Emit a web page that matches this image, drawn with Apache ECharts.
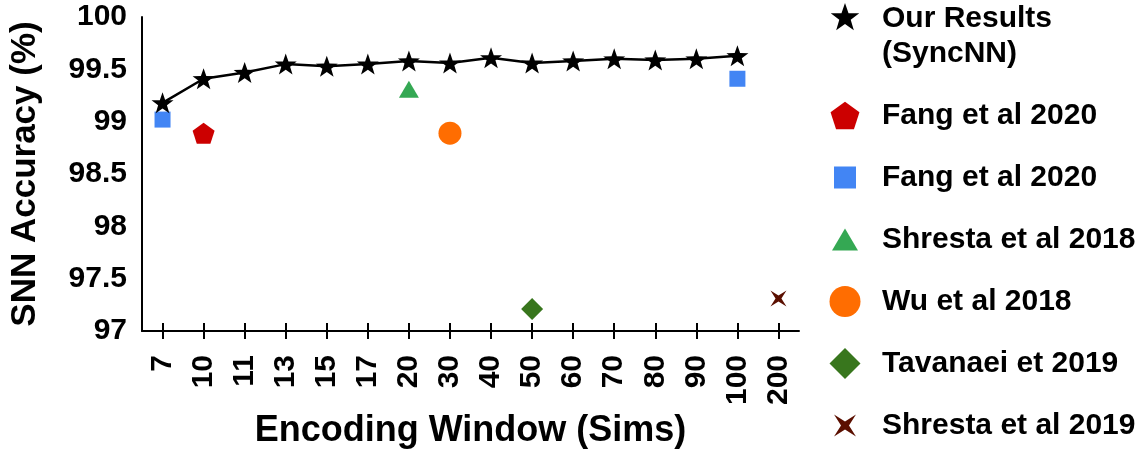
<!DOCTYPE html>
<html>
<head>
<meta charset="utf-8">
<script src="https://cdn.jsdelivr.net/npm/echarts@6/dist/echarts.min.js"></script>
<style>
html,body{margin:0;padding:0;background:#fff;}
#chart{width:1148px;height:451px;}
</style>
</head>
<body>
<div id="chart"></div>
<script>
// ---- data ----
const categories = ['7','10','11','13','15','17','20','30','40','50','60','70','80','90','100','200'];
const yTicks = [97, 97.5, 98, 98.5, 99, 99.5, 100];
const syncnnValues = [99.18, 99.41, 99.47, 99.55, 99.53, 99.55, 99.58, 99.56, 99.61, 99.56, 99.58, 99.60, 99.59, 99.60, 99.63, null];
const fangPentagon = [['10', 98.89]];
const fangSquare = [['7', 99.02], ['100', 99.41]];
const shresta2018 = [['20', 99.31]];
const wu2018 = [['30', 98.89]];
const tavanaei2019 = [['50', 97.21]];
const shresta2019 = [['200', 97.31]];
const seriesLabels = ['{s| }\n{a|Our Results}\n{a|(SyncNN)}', 'Fang et al 2020', 'Fang et al 2020', 'Shresta et al 2018', 'Wu et al 2018', 'Tavanaei et 2019', 'Shresta et al 2019'];

// ---- shapes ----
function f(n){return n.toFixed(2);}
function starD(cx, cy, R, r){
  let d='';
  for(let i=0;i<10;i++){
    const a=-Math.PI/2+i*Math.PI/5, rad=i%2?r:R;
    d+=(i?'L':'M')+f(cx+rad*Math.cos(a))+' '+f(cy+rad*Math.sin(a))+' ';
  }
  return d+'Z';
}
function polyD(cx, cy, R, n, start){
  let d='';
  for(let i=0;i<n;i++){
    const a=start+i*2*Math.PI/n;
    d+=(i?'L':'M')+f(cx+R*Math.cos(a))+' '+f(cy+R*Math.sin(a))+' ';
  }
  return d+'Z';
}
function crossD(cx, cy, R, r){
  let d='';
  for(let i=0;i<8;i++){
    const a=-Math.PI/4+i*Math.PI/4, rad=i%2?r:R;
    d+=(i?'L':'M')+f(cx+rad*Math.cos(a))+' '+f(cy+rad*Math.sin(a))+' ';
  }
  return d+'Z';
}
function circleD(cx, cy, r){
  return 'M'+f(cx-r)+' '+cy+' A'+r+' '+r+' 0 1 0 '+f(cx+r)+' '+cy+' A'+r+' '+r+' 0 1 0 '+f(cx-r)+' '+cy+' Z';
}
const IW=48, IH=32;
function pad(d){ return 'path://'+d+' M0 0 L0 0 M'+IW+' '+IH+' L'+IW+' '+IH; }

const symStar = 'path://'+starD(50,50,50,20);
const symPent = 'path://'+polyD(50,50,50,5,-Math.PI/2);
const symCross = 'path://'+crossD(50,50,50,13);

const legStar = pad(starD(16,17.5,15,6));
const legPent = pad(polyD(16,17.4,15.2,5,-Math.PI/2));
const legSquare = pad('M5 5 L27 5 L27 27 L5 27 Z');
const legTri = pad('M16 5 L29 27 L3 27 Z');
const legCircle = pad(circleD(16,16,15.5));
const legDiamond = pad('M16 0.5 L31.5 16 L16 31.5 L0.5 16 Z');
const legCross = pad(crossD(16,16,15.5,4));

const FONT = 'Liberation Sans';
const names = ['s0','s1','s2','s3','s4','s5','s6'];
const solid = {opacity:1, borderWidth:0};

const chart = echarts.init(document.getElementById('chart'));
chart.setOption({
  animation:false,
  backgroundColor:'#fff',
  grid:{left:142, right:349, top:17, bottom:120, containLabel:false, outerBoundsMode:'none'},
  legend:{
    orient:'vertical', left:829, top:-38, padding:0, itemGap:27,
    itemWidth:IW, itemHeight:IH, selectedMode:false,
    itemStyle:{borderWidth:0, opacity:1},
    textStyle:{fontFamily:FONT, fontSize:30, fontWeight:'bold', color:'#000', lineHeight:35,
      rich:{
        s:{fontFamily:FONT, fontSize:10, lineHeight:39, height:39},
        a:{fontFamily:FONT, fontSize:30, fontWeight:'bold', color:'#000', lineHeight:35}
      }},
    formatter:function(n){ return seriesLabels[names.indexOf(n)]; },
    data:[
      {name:'s0', icon:legStar},
      {name:'s1', icon:legPent},
      {name:'s2', icon:legSquare},
      {name:'s3', icon:legTri},
      {name:'s4', icon:legCircle},
      {name:'s5', icon:legDiamond},
      {name:'s6', icon:legCross}
    ]
  },
  xAxis:[{
    type:'category', data:categories, position:'bottom', boundaryGap:true,
    name:'Encoding Window (Sims)', nameLocation:'middle', nameGap:78,
    nameTextStyle:{fontFamily:FONT, fontSize:36, fontWeight:'bold', color:'#000'},
    axisLine:{show:true, lineStyle:{color:'#000', width:2}},
    axisTick:{show:true, alignWithLabel:true, inside:false, length:8, lineStyle:{color:'#000', width:2}},
    axisLabel:{rotate:90, margin:24, interval:0, fontFamily:FONT, fontSize:30, fontWeight:'bold', color:'#000'},
    splitLine:{show:false}
  },{
    type:'category', data:categories, position:'bottom', boundaryGap:true,
    axisLine:{show:false},
    axisTick:{show:true, alignWithLabel:true, inside:true, length:8, lineStyle:{color:'#000', width:2}},
    axisLabel:{show:false}, splitLine:{show:false}
  }],
  yAxis:{
    type:'value', min:yTicks[0], max:yTicks[yTicks.length-1], interval:0.5,
    name:'SNN Accuracy (%)', nameLocation:'middle', nameGap:99,
    nameTextStyle:{fontFamily:FONT, fontSize:35, fontWeight:'bold', color:'#000'},
    axisLine:{show:true, lineStyle:{color:'#000', width:2}},
    axisTick:{show:false},
    axisLabel:{margin:15, fontFamily:FONT, fontSize:30, fontWeight:'bold', color:'#000'},
    splitLine:{show:false}
  },
  series:[
    {name:'s0', type:'line', data:syncnnValues, symbol:symStar, symbolSize:[22,21], showAllSymbol:true,
      z:5, lineStyle:{color:'#000', width:2.5}, itemStyle:Object.assign({color:'#000'}, solid), emphasis:{disabled:true}},
    {name:'s1', type:'scatter', data:fangPentagon, symbol:symPent, symbolSize:[22,21], itemStyle:Object.assign({color:'#cc0000'}, solid), emphasis:{disabled:true}},
    {name:'s2', type:'scatter', data:fangSquare, symbol:'rect', symbolSize:16, itemStyle:Object.assign({color:'#4285f4'}, solid), emphasis:{disabled:true}},
    {name:'s3', type:'scatter', data:shresta2018, symbol:'triangle', symbolSize:[20,17], itemStyle:Object.assign({color:'#34a853'}, solid), emphasis:{disabled:true}},
    {name:'s4', type:'scatter', data:wu2018, symbol:'circle', symbolSize:23, itemStyle:Object.assign({color:'#ff6d01'}, solid), emphasis:{disabled:true}},
    {name:'s5', type:'scatter', data:tavanaei2019, symbol:'diamond', symbolSize:22, itemStyle:Object.assign({color:'#38761d'}, solid), emphasis:{disabled:true}},
    {name:'s6', type:'scatter', data:shresta2019, symbol:symCross, symbolSize:16, itemStyle:Object.assign({color:'#5b0f00'}, solid), emphasis:{disabled:true}}
  ]
});
</script>
</body>
</html>
